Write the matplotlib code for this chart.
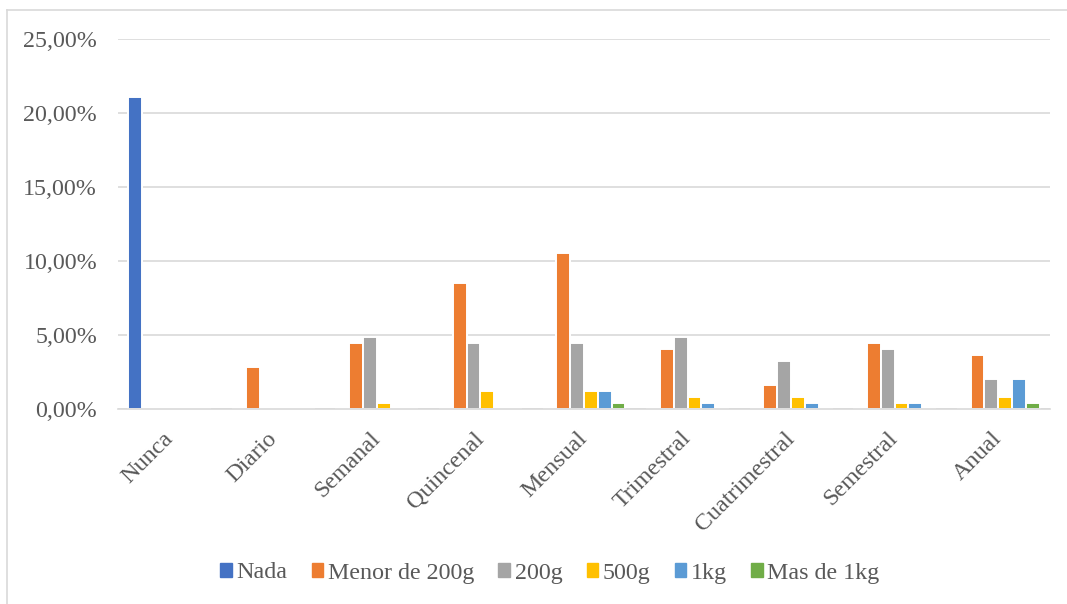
import matplotlib
matplotlib.use("Agg")
import matplotlib.pyplot as plt
import numpy as np
from matplotlib.ticker import FuncFormatter, MultipleLocator
from matplotlib.lines import Line2D

categories = ["Nunca", "Diario", "Semanal", "Quincenal", "Mensual",
              "Trimestral", "Cuatrimestral", "Semestral", "Anual"]
series_names = ["Nada", "Menor de 200g", "200g", "500g", "1kg", "Mas de 1kg"]
nada = [21.05, 0, 0, 0, 0, 0, 0, 0, 0]
menor_200g = [0, 2.83, 4.45, 8.50, 10.53, 4.05, 1.62, 4.45, 3.64]
g200 = [0, 0, 4.86, 4.45, 4.45, 4.86, 3.24, 4.05, 2.02]
g500 = [0, 0, 0.40, 1.21, 1.21, 0.81, 0.81, 0.40, 0.81]
kg1 = [0, 0, 0, 0, 1.21, 0.40, 0.40, 0.40, 2.02]
mas_1kg = [0, 0, 0, 0, 0.40, 0, 0, 0, 0.40]
colors = ["#4472C4", "#ED7D31", "#A5A5A5", "#FFC000", "#5B9BD5", "#70AD47"]

data = [nada, menor_200g, g200, g500, kg1, mas_1kg]

plt.rcParams['font.family'] = ['Liberation Serif', 'DejaVu Serif']
FS = 17.3

fig = plt.figure(figsize=(10.67, 6.04), dpi=100)
ax = fig.add_axes([118/1067, 1-409/604, (1050-118)/1067, (409-39)/604])

x = np.arange(len(categories))
n = len(data)
slot = 0.8 / n
for i, (vals, name, c) in enumerate(zip(data, series_names, colors)):
    ax.bar(x - 0.4 + slot*(i+0.5), vals, width=slot, color=c, edgecolor='white',
           linewidth=1.4, label=name, zorder=3)

ax.set_xlim(-0.5, len(categories)-0.5)
ax.set_ylim(0, 25)
ax.yaxis.set_major_locator(MultipleLocator(5))
ax.yaxis.set_major_formatter(FuncFormatter(lambda v, p: f"{v:.2f}%".replace('.', ',')))
ax.grid(axis='y', color='#D9D9D9', linewidth=1.2, zorder=0)
for s in ['top', 'right', 'left']:
    ax.spines[s].set_visible(False)
ax.spines['bottom'].set_color('#D9D9D9')
ax.spines['bottom'].set_linewidth(1.2)
ax.spines['bottom'].set_zorder(4)
ax.tick_params(axis='both', length=0, labelsize=FS, labelcolor='#595959')
ax.tick_params(axis='y', pad=15)
ax.set_xticks(x)
ax.set_xticklabels(categories, rotation=45, ha='right', va='center',
                   rotation_mode='anchor')
ax.tick_params(axis='x', pad=19)

handles = [plt.Rectangle((0, 0), 1, 1, color=c) for c in colors]
fig.legend(handles, series_names, loc='center', bbox_to_anchor=(550/1067, 1-573/604),
           ncol=6, frameon=False, fontsize=FS, handlelength=0.48, handleheight=0.48,
           handletextpad=0.2, columnspacing=1.0, labelcolor='#595959')

fig.add_artist(Line2D([7/1067, 7/1067], [0, 1-10/604], transform=fig.transFigure,
                      color='#D9D9D9', linewidth=1.2))
fig.add_artist(Line2D([7/1067, 1], [1-10/604, 1-10/604], transform=fig.transFigure,
                      color='#D9D9D9', linewidth=1.2))

fig.savefig("out.png", dpi=100)
